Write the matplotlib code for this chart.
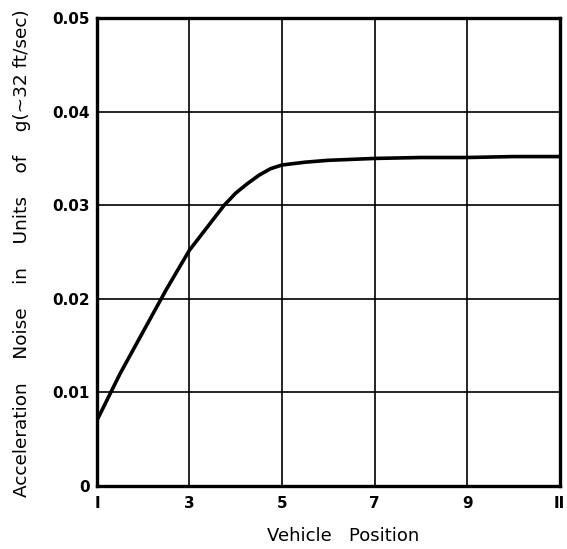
import matplotlib
matplotlib.use("Agg")
import matplotlib.pyplot as plt

# Data
vehicle_position = [1, 1.5, 2, 2.5, 3, 3.5, 3.75, 4, 4.25, 4.5, 4.75, 5,
                    5.5, 6, 7, 8, 9, 10, 11]
accel_noise = [0.0070, 0.0120, 0.0165, 0.0210, 0.0252, 0.0284, 0.0300, 0.0313,
               0.0323, 0.0332, 0.0339, 0.0343, 0.0346, 0.0348, 0.0350, 0.0351,
               0.0351, 0.0352, 0.0352]
x_ticks = [1, 3, 5, 7, 9, 11]
x_tick_labels = ["I", "3", "5", "7", "9", "II"]
y_ticks = [0, 0.01, 0.02, 0.03, 0.04, 0.05]
y_tick_labels = ["0", "0.01", "0.02", "0.03", "0.04", "0.05"]

plt.rcParams['font.family'] = ['DejaVu Sans']

fig = plt.figure(figsize=(5.67, 5.49), dpi=100)
ax = fig.add_axes([0.171, 0.115, 0.816, 0.852])

ax.plot(vehicle_position, accel_noise, color='black', linewidth=2.6,
        solid_capstyle='round', solid_joinstyle='round', zorder=3)

ax.set_xlim(1, 11)
ax.set_ylim(0, 0.05)
ax.set_xticks(x_ticks)
ax.set_xticklabels(x_tick_labels)
ax.set_yticks(y_ticks)
ax.set_yticklabels(y_tick_labels)

ax.grid(True, color='black', linewidth=1.2)
ax.set_axisbelow(True)
for s in ax.spines.values():
    s.set_linewidth(2.4)
    s.set_color('black')

ax.tick_params(axis='both', length=0, labelsize=11)
ax.tick_params(axis='x', pad=7)
ax.tick_params(axis='y', pad=5)
for lab in ax.get_xticklabels() + ax.get_yticklabels():
    lab.set_fontweight('bold')

ax.set_xlabel("Vehicle   Position", fontsize=13)
ax.xaxis.set_label_coords(0.532, -0.088)
ax.set_ylabel("Acceleration    Noise    in    Units    of    g(~32 ft/sec)",
              fontsize=13.3)
ax.yaxis.set_label_coords(-0.143, 0.497)

fig.savefig("out.png", dpi=100)
